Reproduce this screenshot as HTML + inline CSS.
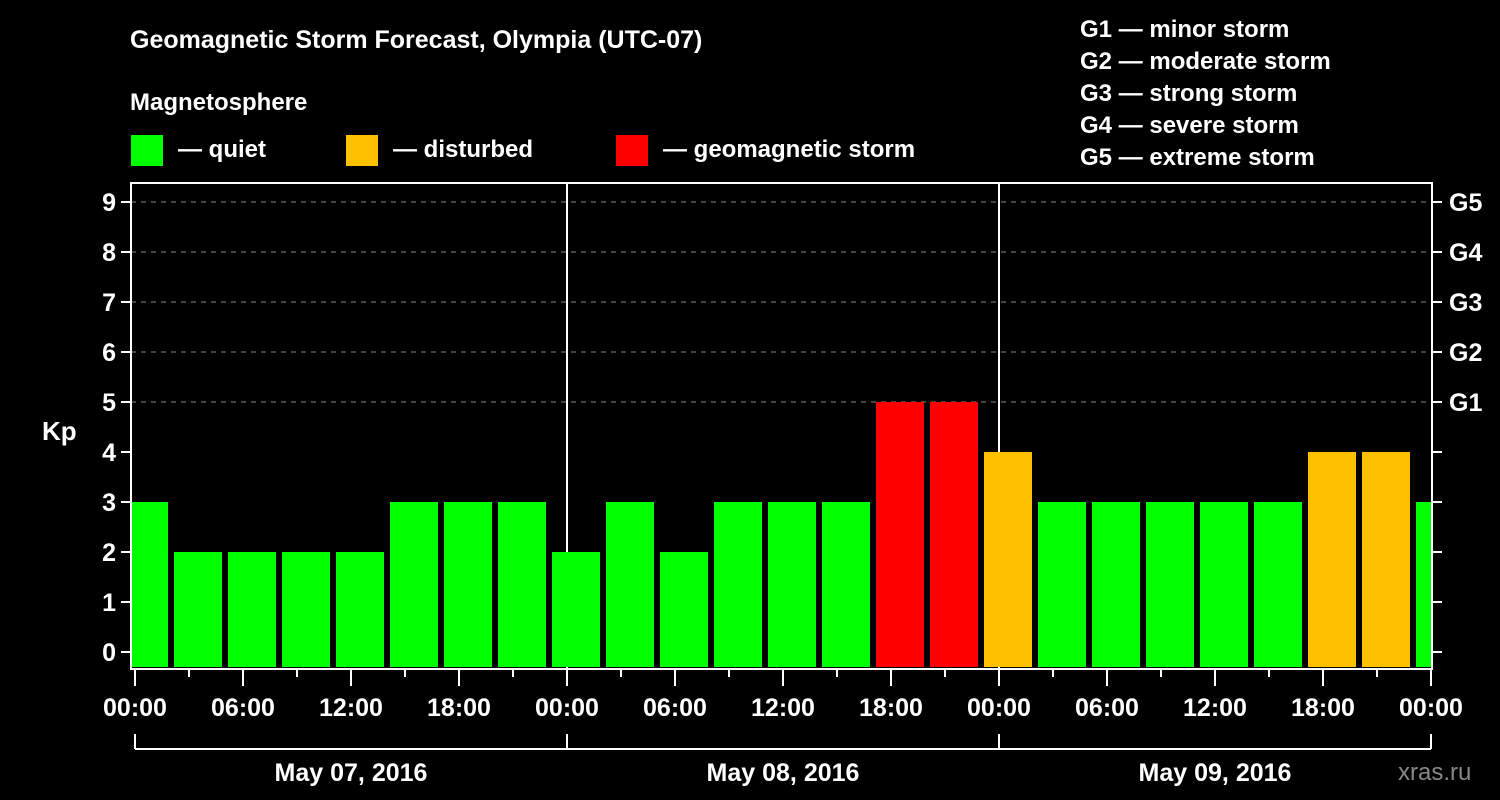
<!DOCTYPE html>
<html><head><meta charset="utf-8"><style>
html,body{margin:0;padding:0;background:#000;}
svg{display:block;font-family:"Liberation Sans",sans-serif;font-weight:bold;}
</style></head><body>
<svg id="chart" width="1500" height="800" viewBox="0 0 1500 800">
<text x="130" y="48" fill="#fff" font-size="25">Geomagnetic Storm Forecast, Olympia (UTC-07)</text>
<text x="130" y="110" fill="#fff" font-size="24">Magnetosphere</text>
<g><rect x="131" y="135" width="32" height="31" fill="#00ff00"/><text x="178" y="157" fill="#fff" font-size="24">— quiet</text></g>
<g><rect x="346" y="135" width="32" height="31" fill="#ffc000"/><text x="393" y="157" fill="#fff" font-size="24">— disturbed</text></g>
<g><rect x="616" y="135" width="32" height="31" fill="#ff0000"/><text x="663" y="157" fill="#fff" font-size="24">— geomagnetic storm</text></g>
<g fill="#fff" font-size="24">
<text x="1080" y="37">G1 — minor storm</text>
<text x="1080" y="69">G2 — moderate storm</text>
<text x="1080" y="101">G3 — strong storm</text>
<text x="1080" y="133">G4 — severe storm</text>
<text x="1080" y="165">G5 — extreme storm</text>
</g>
<text x="42" y="440" fill="#fff" font-size="26">Kp</text>
<text x="1398" y="780" fill="#888" font-size="24" font-weight="normal">xras.ru</text>
<g id="grid"></g><g id="bars"></g><g id="axes"></g>
</svg>
<script>
const kpValues=[3,2,2,2,2,3,3,3,2,3,2,3,3,3,5,5,4,3,3,3,3,3,4,4,3];
const barStartHour=0.5;
const yTicks=[0,1,2,3,4,5,6,7,8,9];
const gLabels=["G1","G2","G3","G4","G5"];
const xTickLabels=["00:00","06:00","12:00","18:00","00:00","06:00","12:00","18:00","00:00","06:00","12:00","18:00","00:00"];
const dayLabels=["May 07, 2016","May 08, 2016","May 09, 2016"];
const NS="http://www.w3.org/2000/svg";
const L=131,R=1432,T=183,B=669,X0=135,PXH=18;
const x=h=>X0+h*PXH;
const y=v=>652-v*50;
function mk(tag,attrs,parent,txt){const e=document.createElementNS(NS,tag);for(const k in attrs)e.setAttribute(k,attrs[k]);if(txt!==undefined)e.textContent=txt;parent.appendChild(e);return e;}
const grid=document.getElementById('grid'),bars=document.getElementById('bars'),axes=document.getElementById('axes');
yTicks.forEach(v=>{if(v>=5){const l=mk('line',{x1:L,x2:R,y1:y(v),y2:y(v),stroke:'#888','stroke-dasharray':'5,5','stroke-width':1},grid);

}});
[1,2].forEach(d=>{const l=mk('line',{x1:x(24*d),x2:x(24*d),y1:T,y2:B,stroke:'#fff','stroke-width':2},grid);

});
kpValues.forEach((v,i)=>{const c=x(barStartHour+3*i);let x1=Math.max(c-24,L+1),x2=Math.min(c+24,R-1);
const col=v>=5?'#ff0000':(v>=4?'#ffc000':'#00ff00');
const r=mk('rect',{x:x1,y:y(v),width:x2-x1,height:667-y(v),fill:col},bars);

});
const fr=mk('rect',{x:L,y:T,width:R-L,height:B-T,fill:'none',stroke:'#fff','stroke-width':2},axes);


yTicks.forEach(v=>{mk('line',{x1:L-10,x2:L,y1:y(v),y2:y(v),stroke:'#fff','stroke-width':2},axes);
mk('line',{x1:R,x2:R+10,y1:y(v),y2:y(v),stroke:'#fff','stroke-width':2},axes);
const t=mk('text',{x:L-15,y:y(v)+9,fill:'#fff','font-size':25,'text-anchor':'end'},axes,String(v));

});
gLabels.forEach((g,i)=>{const t=mk('text',{x:R+17,y:y(5+i)+9,fill:'#fff','font-size':25},axes,g);

});
for(let h=0;h<=72;h+=3){const major=h%6===0;mk('line',{x1:x(h),x2:x(h),y1:B,y2:major?686:677,stroke:'#fff','stroke-width':2},axes);}
xTickLabels.forEach((s,i)=>{const t=mk('text',{x:x(6*i),y:716,fill:'#fff','font-size':25,'text-anchor':'middle'},axes,s);

});
mk('line',{x1:x(0),x2:x(72),y1:749,y2:749,stroke:'#fff','stroke-width':2},axes);
for(let d=0;d<=3;d++)mk('line',{x1:x(24*d),x2:x(24*d),y1:734,y2:749,stroke:'#fff','stroke-width':2},axes);
dayLabels.forEach((s,i)=>{const t=mk('text',{x:x(24*i+12),y:781,fill:'#fff','font-size':25,'text-anchor':'middle'},axes,s);

});
</script>
</body></html>
